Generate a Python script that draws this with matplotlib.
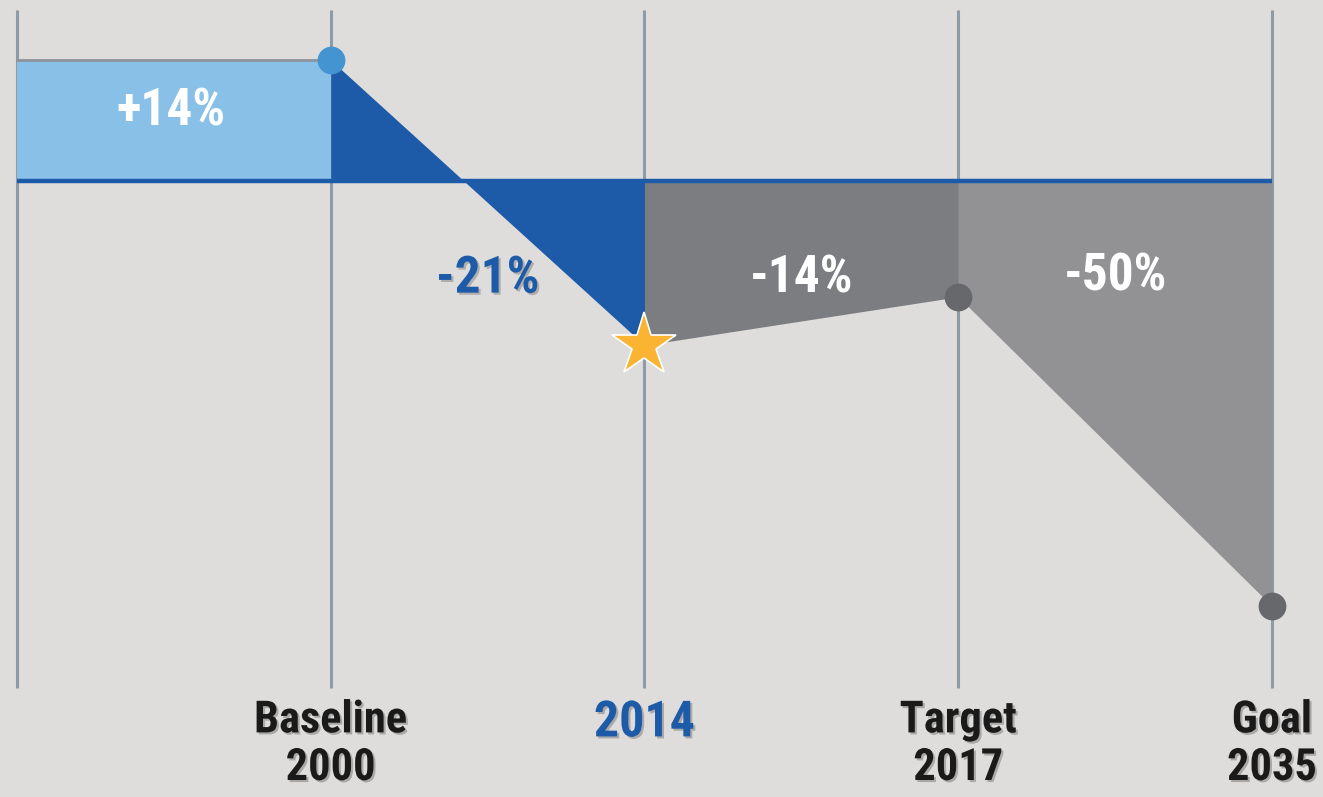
import matplotlib
matplotlib.use('Agg')
import matplotlib.pyplot as plt
import matplotlib.patheffects as pe
from matplotlib import font_manager

# categories along the timeline (position 0 is the left edge of the chart)
milestones = ['Baseline\n2000', '2014', 'Target\n2017', 'Goal\n2035']
positions = [1, 2, 3, 4]
# level of each milestone relative to the zero line (%)
levels = [14, -19.0, -13.4, -49.2]
# labels written inside each band
band_labels = ['+14%', '-21%', '-14%', '-50%']


def pick_font(names):
    for n in names:
        try:
            font_manager.findfont(n, fallback_to_default=False)
            return n
        except Exception:
            pass
    return 'DejaVu Sans'


FONT = pick_font(['Liberation Sans Narrow', 'Roboto Condensed', 'Open Sans Condensed',
                  'DejaVu Sans Condensed', 'Roboto'])

BG = '#dedddb'
LIGHT_BLUE = '#88c0e8'
DARK_BLUE = '#1d5aa8'
DOT_BLUE = '#4394d0'
DARK_GRAY = '#7c7d81'
MID_GRAY = '#929295'
DOT_GRAY = '#67686c'
STAR = '#fbb431'
VLINE = '#8d9ba6'

fig = plt.figure(figsize=(13.23, 7.97), dpi=100)
fig.patch.set_facecolor(BG)
ax = fig.add_axes([0, 0, 1, 1])
ax.set_facecolor(BG)
ax.axis('off')

# pixel geometry: x0 at 17px, 313.75px per step; zero at 181px, 8.64px per %
ax.set_xlim(-17 / 313.75, (1323 - 17) / 313.75)
ax.set_ylim((181 - 797) / 8.64, 181 / 8.64)

# vertical guide lines
for x in [0] + positions:
    ax.plot([x, x], [19.8, -58.7], color=VLINE, lw=2.2, zorder=1, solid_capstyle='butt')

# bands
ax.fill_between([0, positions[0]], 0, levels[0], color=LIGHT_BLUE, lw=0, zorder=2)
ax.plot([0, positions[0]], [levels[0], levels[0]], color='#8c9399', lw=2, zorder=2)
ax.fill_between(positions[0:2], levels[0:2], 0, color=DARK_BLUE, lw=0, zorder=2)
ax.fill_between(positions[1:3], levels[1:3], 0, color=DARK_GRAY, lw=0, zorder=2)
ax.fill_between(positions[2:4], levels[2:4], 0, color=MID_GRAY, lw=0, zorder=2)

# zero line
ax.plot([0, positions[-1]], [0, 0], color=DARK_BLUE, lw=3.2, zorder=3, solid_capstyle='butt')

# markers
ax.plot(positions[0], levels[0], 'o', ms=20, color=DOT_BLUE, mec='none', zorder=5)
ax.plot(positions[1], levels[1], '*', ms=48, color=STAR, mec='white', mew=1.2, zorder=5)
ax.plot(positions[2:], levels[2:], 'o', ms=20, color=DOT_GRAY, mec='none', zorder=5)

# band labels
label_xy = [(0.49, 8.0), (1.5, -11.3), (2.5, -11.3), (3.5, -11.1)]
label_col = ['white', DARK_BLUE, 'white', 'white']
shadow = [pe.SimplePatchShadow(offset=(1.5, -1.5), shadow_rgbFace='#555555', alpha=0.35), pe.Normal()]
for (x, y), txt, c in zip(label_xy, band_labels, label_col):
    t = ax.text(x, y, txt, ha='center', va='center', fontsize=37, fontweight='bold',
                color=c, family=FONT, zorder=6)
    if c != 'white':
        t.set_path_effects(shadow)

# milestone labels under the lines
for x, txt in zip(positions, milestones):
    c = DARK_BLUE if txt == '2014' else '#1a1a1a'
    size = 36 if txt == '2014' else 32
    ax.text(x, -60.0, txt, ha='center', va='top', fontsize=size, fontweight='bold', color=c,
            family=FONT, linespacing=1.17, zorder=6, path_effects=[
                pe.SimplePatchShadow(offset=(1.5, -1.5), shadow_rgbFace='#777777', alpha=0.5), pe.Normal()])

fig.savefig('out.png', dpi=100, facecolor=BG)
